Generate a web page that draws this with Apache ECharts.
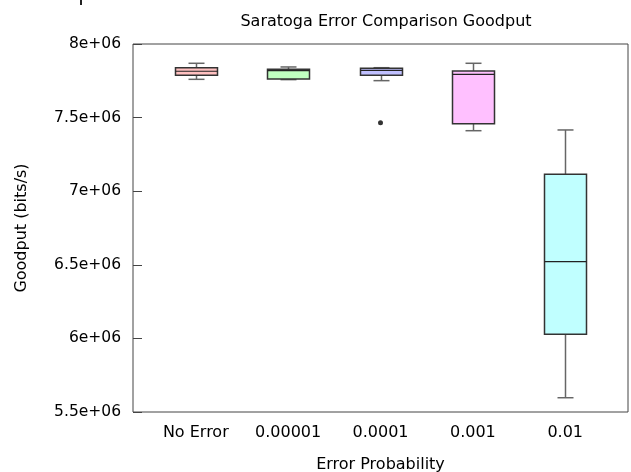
<!DOCTYPE html>
<html>
<head>
<meta charset="utf-8">
<script src="https://cdn.jsdelivr.net/npm/echarts@6/dist/echarts.min.js"></script>
<style>
html,body{margin:0;padding:0;background:#fff;}
#chart{width:631px;height:472px;}
</style>
</head>
<body>
<div id="chart"></div>
<script>
// ---- data ----
const categories = ['No Error', '0.00001', '0.0001', '0.001', '0.01'];
const mins    = [7760000, 7758000, 7751000, 7411000, 5597000];
const q1s     = [7787000, 7762000, 7787000, 7459000, 6028000];
const medians = [7815000, 7819000, 7821000, 7794000, 6521000];
const q3s     = [7839000, 7828000, 7835000, 7817000, 7115000];
const maxs    = [7869000, 7844000, 7839000, 7869000, 7416000];
const outlierCategory = ['0.0001'];
const outlierValues = [7465000];
const yTicks = [5500000, 6000000, 6500000, 7000000, 7500000, 8000000];
const yTickLabels = ['5.5e+06', '6e+06', '6.5e+06', '7e+06', '7.5e+06', '8e+06'];

// ---- styles ----
const boxFills = ['#ffc0c0', '#c0ffc0', '#c0c0ff', '#ffc0ff', '#c0ffff'];
const FONT = 'DejaVu Sans';

const boxData = categories.map((c, i) => [i + 1, mins[i], q1s[i], medians[i], q3s[i], maxs[i]]);
const outlierData = outlierCategory.map((c, i) => [categories.indexOf(c) + 1, outlierValues[i]]);

const chart = echarts.init(document.getElementById('chart'));
chart.setOption({
  animation: false,
  backgroundColor: '#fff',
  title: {
    text: 'Saratoga Error Comparison Goodput',
    left: 381, top: 9, textAlign: 'center',
    textStyle: { fontFamily: FONT, fontSize: 16, fontWeight: 'normal', color: '#000' }
  },
  grid: { left: 133, top: 44, width: 495, height: 368, outerBoundsMode: 'none', containLabel: false,
          show: true, borderColor: '#444', borderWidth: 1, backgroundColor: 'transparent' },
  xAxis: {
    type: 'value', min: 0.32, max: 5.68,
    name: 'Error Probability', nameLocation: 'middle', nameGap: 45,
    nameTextStyle: { fontFamily: FONT, fontSize: 16, color: '#000' },
    axisLine: { show: false }, axisTick: { show: false }, splitLine: { show: false },
    axisLabel: {
      customValues: [1, 2, 3, 4, 5],
      formatter: v => categories[Math.round(v) - 1],
      margin: 13, fontFamily: FONT, fontSize: 16, color: '#000'
    }
  },
  yAxis: {
    type: 'value', min: 5500000, max: 8000000, interval: 500000,
    name: 'Goodput (bits/s)', nameLocation: 'middle', nameGap: 103,
    nameTextStyle: { fontFamily: FONT, fontSize: 16, color: '#000' },
    axisLine: { show: false },
    axisTick: { show: true, inside: true, length: 9, lineStyle: { color: '#444' } },
    splitLine: { show: false },
    axisLabel: {
      formatter: v => { const k = yTicks.findIndex(t => Math.abs(t - v) < 1); return k >= 0 ? yTickLabels[k] : ''; },
      margin: 12, fontFamily: FONT, fontSize: 15.5, color: '#000'
    }
  },
  graphic: [
    { type: 'rect', shape: { x: 80, y: 0, width: 2, height: 5 }, style: { fill: '#222' } }
  ],
  series: [
    {
      type: 'custom',
      data: boxData,
      encode: { x: 0, y: [1, 2, 3, 4, 5] },
      renderItem: function (params, api) {
        const x = api.value(0);
        const pMin = api.coord([x, api.value(1)]);
        const pQ1 = api.coord([x, api.value(2)]);
        const pMed = api.coord([x, api.value(3)]);
        const pQ3 = api.coord([x, api.value(4)]);
        const pMax = api.coord([x, api.value(5)]);
        const cx = Math.round(pMin[0]) + 0.5;
        const hw = 21, cap = 8;
        const whisker = { stroke: '#666', lineWidth: 1.5 };
        return {
          type: 'group',
          children: [
            { type: 'line', shape: { x1: cx, y1: pMax[1], x2: cx, y2: pQ3[1] }, style: whisker },
            { type: 'line', shape: { x1: cx, y1: pQ1[1], x2: cx, y2: pMin[1] }, style: whisker },
            { type: 'line', shape: { x1: cx - cap, y1: pMax[1], x2: cx + cap, y2: pMax[1] }, style: whisker },
            { type: 'line', shape: { x1: cx - cap, y1: pMin[1], x2: cx + cap, y2: pMin[1] }, style: whisker },
            { type: 'rect', shape: { x: cx - hw, y: pQ3[1], width: hw * 2, height: pQ1[1] - pQ3[1] },
              style: { fill: boxFills[params.dataIndex], stroke: '#333', lineWidth: 1.5 } },
            { type: 'line', shape: { x1: cx - hw, y1: pMed[1], x2: cx + hw, y2: pMed[1] }, style: { stroke: '#222', lineWidth: 1.2 } }
          ]
        };
      }
    },
    {
      type: 'scatter',
      data: outlierData,
      symbol: 'circle', symbolSize: 5,
      itemStyle: { color: '#000' }
    }
  ]
});
</script>
</body>
</html>
